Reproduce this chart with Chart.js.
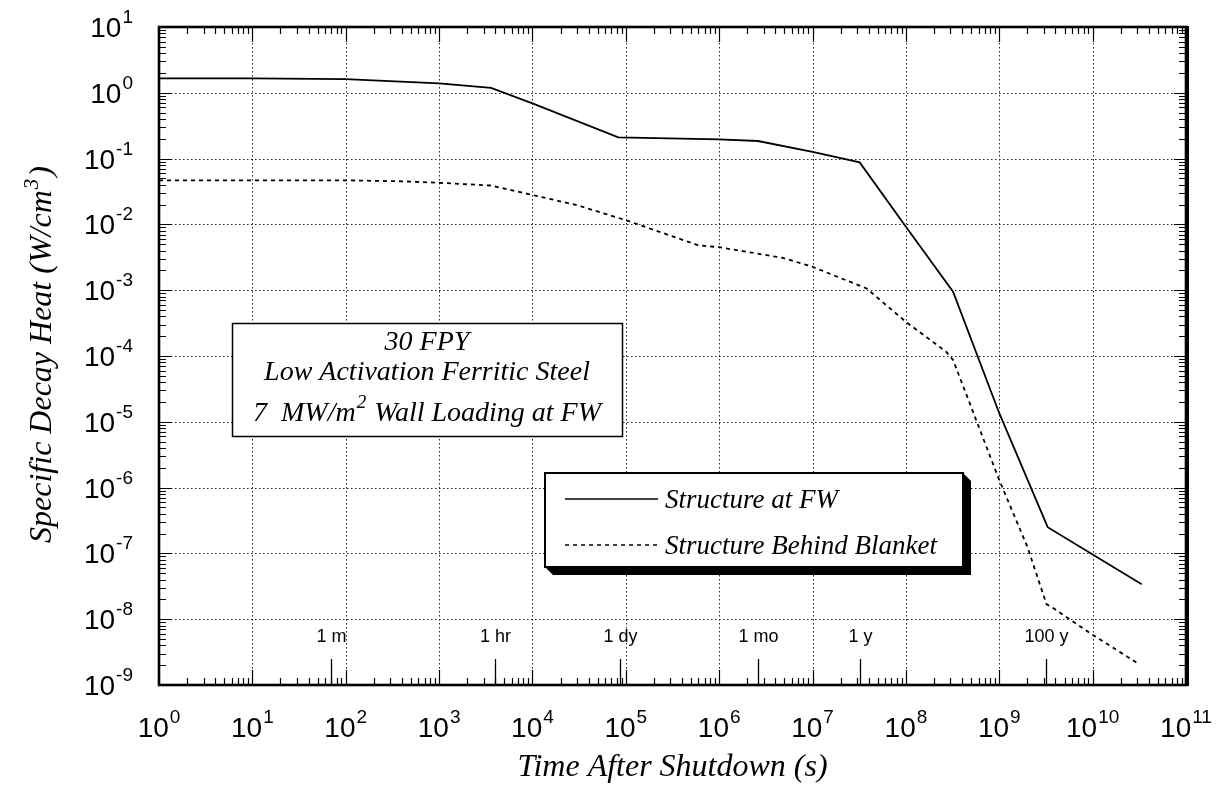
<!DOCTYPE html>
<html>
<head>
<meta charset="utf-8">
<script src="https://cdn.jsdelivr.net/npm/chart.js@4/dist/chart.umd.min.js"></script>
<style>
  html, body { margin: 0; padding: 0; background: #fff; }
  canvas { display: block; }
</style>
</head>
<body>
<canvas id="c" width="1222" height="788"></canvas>
<script>
// ---- Data ----
const timeFW = [1, 10, 100, 1000, 3600, 1e4, 8.3e4, 1e6, 2.6e6, 1e7, 3.2e7, 1e8, 3.2e8, 1e9, 3.3e9, 3.35e10];
const heatFW = [1.66, 1.66, 1.61, 1.39, 1.19, 0.69, 0.21, 0.196, 0.185, 0.127, 0.0875, 0.0092, 9.5e-4, 1.35e-5, 2.5e-7, 3.4e-8];

const timeBB = [1, 100, 400, 1000, 3600, 1e4, 3e4, 1e5, 6e5, 1e6, 4.8e6, 1e7, 3.8e7, 1e8, 2.7e8, 3.2e8, 1e9, 2e9, 3.2e9, 4e9, 1e10, 3.1e10];
const heatBB = [0.0467, 0.0467, 0.0452, 0.0429, 0.039, 0.028, 0.0196, 0.0116, 0.0048, 0.0045, 0.0031, 0.00227, 0.00106, 3.3e-4, 1.16e-4, 8.7e-5, 1.3e-6, 1.26e-7, 1.7e-8, 1.4e-8, 5.8e-9, 2.1e-9];

const seriesNames = ['Structure at FW', 'Structure Behind Blanket'];

const xExponents = [0, 1, 2, 3, 4, 5, 6, 7, 8, 9, 10, 11];
const yExponents = [1, 0, -1, -2, -3, -4, -5, -6, -7, -8, -9];

const markLabels = ['1 m', '1 hr', '1 dy', '1 mo', '1 y', '100 y'];
const markTimes  = [70, 4000, 86400, 2.6e6, 3.2e7, 3.2e9];

const infoLines = ['30 FPY', 'Low Activation Ferritic Steel'];
const xTitle = 'Time After Shutdown (s)';

// ---- Drawing helpers ----
const SANS = '"Liberation Sans", Arial, Helvetica, sans-serif';
const SERIF = '"Liberation Serif", "Times New Roman", serif';

function powWidth(ctx, exp, big, small) {
  ctx.font = big + 'px ' + SANS;
  const w1 = ctx.measureText('10').width;
  ctx.font = small + 'px ' + SANS;
  const w2 = ctx.measureText(String(exp)).width;
  return [w1, w2];
}
function drawPow(ctx, exp, left, baseY, big, small, raise) {
  ctx.textAlign = 'left';
  ctx.textBaseline = 'alphabetic';
  ctx.font = big + 'px ' + SANS;
  ctx.fillText('10', left, baseY);
  const w1 = ctx.measureText('10').width;
  ctx.font = small + 'px ' + SANS;
  ctx.fillText(String(exp), left + w1 + 1, baseY - raise);
}

const decor = {
  id: 'decor',
  beforeDraw(chart) {
    const ctx = chart.ctx;
    ctx.save();
    ctx.fillStyle = '#fff';
    ctx.fillRect(0, 0, chart.width, chart.height);
    ctx.restore();
  },
  beforeDatasetsDraw(chart) {
    const ctx = chart.ctx, a = chart.chartArea;
    const xs = chart.scales.x, ys = chart.scales.y;
    ctx.save();
    ctx.strokeStyle = '#222';
    ctx.lineWidth = 1;
    ctx.setLineDash([1.5, 2.5]);
    xExponents.forEach(e => {
      if (e <= 0 || e >= 11) return;
      const x = Math.round(xs.getPixelForValue(Math.pow(10, e))) + 0.5;
      ctx.beginPath(); ctx.moveTo(x, a.top); ctx.lineTo(x, a.bottom); ctx.stroke();
    });
    yExponents.forEach(e => {
      if (e >= 1 || e <= -9) return;
      const y = Math.round(ys.getPixelForValue(Math.pow(10, e))) + 0.5;
      ctx.beginPath(); ctx.moveTo(a.left, y); ctx.lineTo(a.right, y); ctx.stroke();
    });
    ctx.restore();
  },
  afterDatasetsDraw(chart) {
    const ctx = chart.ctx, a = chart.chartArea;
    const xs = chart.scales.x, ys = chart.scales.y;
    ctx.save();
    ctx.setLineDash([]);
    ctx.strokeStyle = '#000';
    ctx.fillStyle = '#000';

    // minor/major ticks
    ctx.lineWidth = 1.2;
    for (let e = 0; e < 11; e++) {
      for (let m = 1; m <= 9; m++) {
        const v = m * Math.pow(10, e);
        const x = Math.round(xs.getPixelForValue(v)) + 0.5;
        const len = (m === 1) ? 15 : 7;
        if (m === 1 && e === 0) continue;
        ctx.beginPath();
        ctx.moveTo(x, a.bottom); ctx.lineTo(x, a.bottom - len);
        ctx.moveTo(x, a.top); ctx.lineTo(x, a.top + len);
        ctx.stroke();
      }
    }
    for (let e = -9; e < 1; e++) {
      for (let m = 1; m <= 9; m++) {
        const v = m * Math.pow(10, e);
        const y = Math.round(ys.getPixelForValue(v)) + 0.5;
        const len = (m === 1) ? 12 : 7;
        if (m === 1 && e === -9) continue;
        ctx.beginPath();
        ctx.moveTo(a.left, y); ctx.lineTo(a.left + len, y);
        ctx.moveTo(a.right, y); ctx.lineTo(a.right - len, y);
        ctx.stroke();
      }
    }
    // time markers
    ctx.lineWidth = 1.3;
    markTimes.forEach((t, i) => {
      const x = Math.round(xs.getPixelForValue(t)) + 0.5;
      ctx.beginPath(); ctx.moveTo(x, a.bottom); ctx.lineTo(x, a.bottom - 26); ctx.stroke();
      ctx.font = '18px ' + SANS;
      ctx.textAlign = 'center';
      ctx.textBaseline = 'alphabetic';
      ctx.fillText(markLabels[i], x, 642);
    });

    // frame
    ctx.lineWidth = 2.6;
    ctx.strokeRect(a.left, a.top, a.right - a.left, a.bottom - a.top);
    ctx.lineWidth = 4;
    ctx.beginPath(); ctx.moveTo(a.right + 1, a.top - 1); ctx.lineTo(a.right + 1, a.bottom + 1); ctx.stroke();

    // y tick labels
    yExponents.forEach(e => {
      const y = ys.getPixelForValue(Math.pow(10, e));
      const [w1, w2] = powWidth(ctx, e, 28, 19);
      drawPow(ctx, e, 133 - (w1 + 1 + w2), y + 10, 28, 19, 14);
    });
    // x tick labels
    xExponents.forEach(e => {
      const x = xs.getPixelForValue(Math.pow(10, e));
      const [w1, w2] = powWidth(ctx, e, 28, 19);
      const total = w1 + 1 + w2;
      drawPow(ctx, e, x - total / 2, 737, 28, 19, 14);
    });

    // axis titles
    ctx.font = 'italic 32px ' + SERIF;
    ctx.textBaseline = 'alphabetic';
    ctx.textAlign = 'center';
    ctx.fillText(xTitle, (a.left + a.right) / 2, 776);

    ctx.save();
    ctx.translate(51, 355);
    ctx.rotate(-Math.PI / 2);
    const p1 = 'Specific Decay Heat (W/cm', p2 = '3', p3 = ')';
    ctx.font = 'italic 32px ' + SERIF;
    const w1 = ctx.measureText(p1).width;
    const w3 = ctx.measureText(p3).width;
    ctx.font = 'italic 21px ' + SERIF;
    const w2 = ctx.measureText(p2).width;
    let sx = -(w1 + w2 + w3 + 2) / 2;
    ctx.textAlign = 'left';
    ctx.font = 'italic 32px ' + SERIF;
    ctx.fillText(p1, sx, 0);
    ctx.font = 'italic 21px ' + SERIF;
    ctx.fillText(p2, sx + w1 + 1, -13);
    ctx.font = 'italic 32px ' + SERIF;
    ctx.fillText(p3, sx + w1 + w2 + 3, 0);
    ctx.restore();

    // info box
    const bx = 232, by = 323, bw = 390, bh = 113;
    ctx.fillStyle = '#fff';
    ctx.fillRect(bx, by, bw, bh);
    ctx.strokeStyle = '#000';
    ctx.lineWidth = 1.5;
    ctx.strokeRect(bx + 0.5, by + 0.5, bw, bh);
    ctx.fillStyle = '#000';
    const cx = bx + bw / 2;
    ctx.textAlign = 'center';
    ctx.font = 'italic 28px ' + SERIF;
    ctx.fillText(infoLines[0], cx, 350);
    ctx.fillText(infoLines[1], cx, 380);
    {
      const a1 = '7  MW/m', a2 = '2', a3 = ' Wall Loading at FW';
      ctx.font = 'italic 28px ' + SERIF;
      const q1 = ctx.measureText(a1).width, q3 = ctx.measureText(a3).width;
      ctx.font = 'italic 19px ' + SERIF;
      const q2 = ctx.measureText(a2).width;
      let lx = cx - (q1 + q2 + q3 + 2) / 2;
      ctx.textAlign = 'left';
      ctx.font = 'italic 28px ' + SERIF;
      ctx.fillText(a1, lx, 421);
      ctx.font = 'italic 19px ' + SERIF;
      ctx.fillText(a2, lx + q1 + 1, 408);
      ctx.font = 'italic 28px ' + SERIF;
      ctx.fillText(a3, lx + q1 + q2 + 2, 421);
    }

    // legend box with shadow
    const L = 545, T = 473, R = 963, B = 567, off = 8;
    ctx.fillStyle = '#000';
    ctx.beginPath();
    ctx.moveTo(R, T); ctx.lineTo(R + off, T + off); ctx.lineTo(R + off, B + off);
    ctx.lineTo(L + off, B + off); ctx.lineTo(L, B); ctx.lineTo(R, B); ctx.closePath();
    ctx.fill();
    ctx.fillStyle = '#fff';
    ctx.fillRect(L, T, R - L, B - T);
    ctx.lineWidth = 2;
    ctx.strokeStyle = '#000';
    ctx.strokeRect(L, T, R - L, B - T);
    ctx.fillStyle = '#000';
    ctx.lineWidth = 1.5;
    chart.data.datasets.forEach((ds, i) => {
      const ly = i === 0 ? 499 : 545;
      ctx.setLineDash(ds.borderDash || []);
      ctx.beginPath(); ctx.moveTo(565, ly); ctx.lineTo(658, ly); ctx.stroke();
      ctx.setLineDash([]);
      ctx.font = 'italic 27px ' + SERIF;
      ctx.textAlign = 'left';
      ctx.fillText(ds.label, 665, ly + 9);
    });
    ctx.restore();
  }
};

new Chart(document.getElementById('c'), {
  type: 'line',
  data: {
    datasets: [
      {
        label: seriesNames[0],
        data: timeFW.map((t, i) => ({ x: t, y: heatFW[i] })),
        borderColor: '#000', borderWidth: 1.8, pointRadius: 0, tension: 0, fill: false
      },
      {
        label: seriesNames[1],
        data: timeBB.map((t, i) => ({ x: t, y: heatBB[i] })),
        borderColor: '#000', borderWidth: 1.8, borderDash: [4, 4], pointRadius: 0, tension: 0, fill: false
      }
    ]
  },
  options: {
    responsive: false,
    devicePixelRatio: 1,
    animation: false,
    layout: { padding: { left: 159, right: 36, top: 27, bottom: 103 } },
    plugins: { legend: { display: false }, tooltip: { enabled: false } },
    scales: {
      x: { type: 'logarithmic', min: 1, max: 1e11, display: false },
      y: { type: 'logarithmic', min: 1e-9, max: 10, display: false }
    }
  },
  plugins: [decor]
});
</script>
</body>
</html>
